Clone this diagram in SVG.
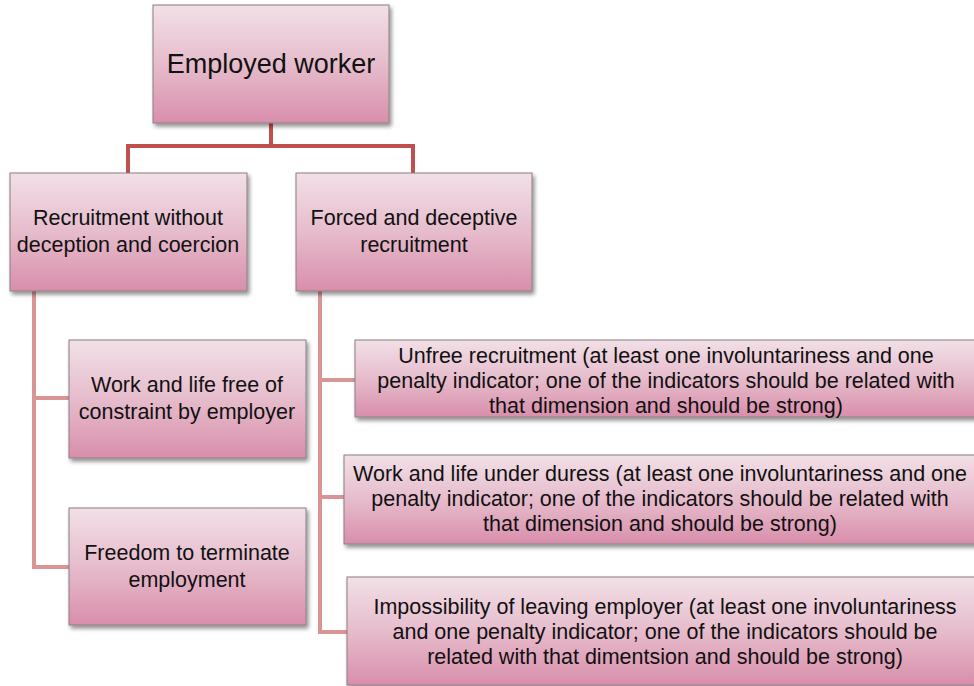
<svg xmlns="http://www.w3.org/2000/svg" width="974" height="686" viewBox="0 0 974 686">
  <defs>
    <linearGradient id="boxFill" x1="0" y1="0" x2="0" y2="1">
      <stop offset="0" stop-color="#f2e0e7"/>
      <stop offset="0.5" stop-color="#e6bccc"/>
      <stop offset="1" stop-color="#d98eab"/>
    </linearGradient>
    <filter id="shadow" x="-5%" y="-5%" width="115%" height="125%">
      <feGaussianBlur in="SourceAlpha" stdDeviation="2"/>
      <feOffset dx="2" dy="3" result="off"/>
      <feComponentTransfer><feFuncA type="linear" slope="0.45"/></feComponentTransfer>
      <feMerge><feMergeNode/><feMergeNode in="SourceGraphic"/></feMerge>
    </filter>
  </defs>
  <style>
    .box { fill: url(#boxFill); stroke: #8a7f83; stroke-width: 1; filter: url(#shadow); }
    .lbl { font-family: "Liberation Sans", Arial, sans-serif; font-size: 21.5px; fill: #111; text-anchor: middle; }
    .big { font-size: 27px; }
    .main { fill: none; stroke: #c0504d; stroke-width: 4; }
    .sub { fill: none; stroke: #d99594; stroke-width: 4; }
  </style>
  <rect width="974" height="686" fill="#ffffff"/>

  <g id="connectors">
    <path class="main" d="M271 123 V146 M128 146 H413 M128 144 V173 M413 144 V173"/>
    <path class="sub" d="M34 291 V567 H69 M34 398 H69"/>
    <path class="sub" d="M320 291 V632 H347 M320 380 H355 M320 497 H344"/>
  </g>

  <g id="employed-worker">
    <rect class="box" x="153" y="5" width="236" height="118"/>
    <text class="lbl big" x="271" y="73">Employed worker</text>
  </g>

  <g id="recruitment-without">
    <rect class="box" x="10" y="173" width="237" height="118"/>
    <text class="lbl" x="128" y="225">Recruitment without</text>
    <text class="lbl" x="128" y="252">deception and coercion</text>
  </g>

  <g id="forced-recruitment">
    <rect class="box" x="296" y="173" width="236" height="118"/>
    <text class="lbl" x="414" y="225">Forced and deceptive</text>
    <text class="lbl" x="414" y="252">recruitment</text>
  </g>

  <g id="work-life-free">
    <rect class="box" x="69" y="340" width="237" height="118"/>
    <text class="lbl" x="187" y="392">Work and life free of</text>
    <text class="lbl" x="187" y="419">constraint by employer</text>
  </g>

  <g id="freedom-terminate">
    <rect class="box" x="69" y="508" width="237" height="117"/>
    <text class="lbl" x="187" y="560">Freedom to terminate</text>
    <text class="lbl" x="187" y="587">employment</text>
  </g>

  <g id="unfree-recruitment">
    <rect class="box" x="355" y="340" width="625" height="77"/>
    <text class="lbl" x="666" y="363">Unfree recruitment (at least one involuntariness and one</text>
    <text class="lbl" x="666" y="388">penalty indicator; one of the indicators should be related with</text>
    <text class="lbl" x="666" y="413">that dimension and should be strong)</text>
  </g>

  <g id="work-under-duress">
    <rect class="box" x="344" y="455" width="634" height="89"/>
    <text class="lbl" x="660" y="481">Work and life under duress (at least one involuntariness and one</text>
    <text class="lbl" x="660" y="506">penalty indicator; one of the indicators should be related with</text>
    <text class="lbl" x="660" y="531">that dimension and should be strong)</text>
  </g>

  <g id="impossibility-leaving">
    <rect class="box" x="347" y="577" width="636" height="108"/>
    <text class="lbl" x="665" y="614">Impossibility of leaving employer (at least one involuntariness</text>
    <text class="lbl" x="665" y="639">and one penalty indicator; one of the indicators should be</text>
    <text class="lbl" x="665" y="664">related with that dimentsion and should be strong)</text>
  </g>
</svg>
